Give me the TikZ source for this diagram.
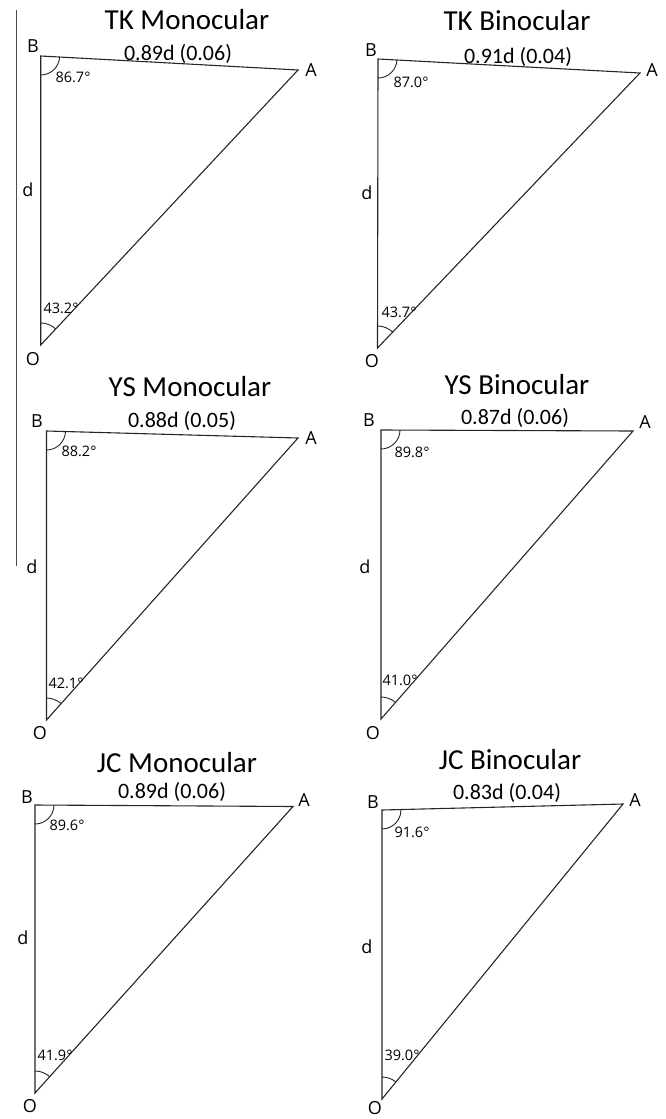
\documentclass[tikz,border=0pt]{standalone}
\usepackage{fontspec}
\setmainfont{Carlito}
\newfontfamily\labfont{Open Sans}
\usetikzlibrary{angles,calc}
\tikzset{
  tri/.style={draw=black!85, line width=1.1pt, line join=miter},
  angarc/.style={draw=black!85, line width=0.9pt},
  ttl/.style={font=\fontsize{29}{31}\selectfont, inner sep=0pt},
  lenlab/.style={font=\fontsize{22}{24}\selectfont, inner sep=0pt},
  vlab/.style={font=\labfont\fontsize{18}{20}\selectfont, inner sep=0pt},
  anglab/.style={font=\labfont\fontsize{14.5}{18}\selectfont, inner sep=0pt},
  sep/.style={draw=black!70, line width=1.5pt},
}
\begin{document}
\begin{tikzpicture}[x=1pt,y=-1pt]
\useasboundingbox (0,0) rectangle (665,1119);
% separator line
\coordinate (s1) at (16.7,10);
\coordinate (s2) at (16.7,566);
\draw[sep] (s1) -- (s2);

% ---- Panel 1: TK Monocular
\coordinate (B1) at (40.7,56); \coordinate (A1) at (298,70); \coordinate (O1) at (40.7,345);
\draw[tri] (B1) -- (A1) -- (O1) -- cycle;
\pic[angarc, angle radius=19pt] {angle=O1--B1--A1};
\pic[angarc, angle radius=22pt] {angle=A1--O1--B1};
\node[ttl] (t1) at (187,20) {TK Monocular};
\node[lenlab] (l1) at (178,54) {0.89d (0.06)};
\node[vlab] (nB1) at (33,46) {B};
\node[vlab] (nA1) at (311,70) {A};
\node[vlab] (nO1) at (33,359) {O};
\node[vlab] (d1) at (28,190) {d};
\node[anglab] (aB1) at (73,77) {86.7°};
\node[anglab] (aO1) at (61,308) {43.2°};

% ---- Panel 2: TK Binocular
\coordinate (B2) at (378,59); \coordinate (A2) at (640,73); \coordinate (O2) at (377.5,348);
\draw[tri] (B2) -- (A2) -- (O2) -- cycle;
\pic[angarc, angle radius=19pt] {angle=O2--B2--A2};
\pic[angarc, angle radius=22pt] {angle=A2--O2--B2};
\node[ttl] (t2) at (517,21) {TK Binocular};
\node[lenlab] (l2) at (518,57) {0.91d (0.04)};
\node[vlab] (nB2) at (371,50) {B};
\node[vlab] (nA2) at (652,70) {A};
\node[vlab] (nO2) at (372,361) {O};
\node[vlab] (d2) at (367,193) {d};
\node[anglab] (aB2) at (411,82) {87.0°};
\node[anglab] (aO2) at (399,312) {43.7°};

% ---- Panel 3: YS Monocular
\coordinate (B3) at (46.5,431); \coordinate (A3) at (298,438); \coordinate (O3) at (46.5,720);
\draw[tri] (B3) -- (A3) -- (O3) -- cycle;
\pic[angarc, angle radius=19pt] {angle=O3--B3--A3};
\pic[angarc, angle radius=22pt] {angle=A3--O3--B3};
\node[ttl] (t3) at (190,387) {YS Monocular};
\node[lenlab] (l3) at (182,421) {0.88d (0.05)};
\node[vlab] (nB3) at (37,421) {B};
\node[vlab] (nA3) at (311,438) {A};
\node[vlab] (nO3) at (40,733) {O};
\node[vlab] (d3) at (32,567) {d};
\node[anglab] (aB3) at (79,451) {88.2°};
\node[anglab] (aO3) at (66,683) {42.1°};

% ---- Panel 4: YS Binocular
\coordinate (B4) at (381,430); \coordinate (A4) at (633,431); \coordinate (O4) at (381,719);
\draw[tri] (B4) -- (A4) -- (O4) -- cycle;
\pic[angarc, angle radius=19pt] {angle=O4--B4--A4};
\pic[angarc, angle radius=22pt] {angle=A4--O4--B4};
\node[ttl] (t4) at (517,385) {YS Binocular};
\node[lenlab] (l4) at (515,418) {0.87d (0.06)};
\node[vlab] (nB4) at (369,420) {B};
\node[vlab] (nA4) at (645,422) {A};
\node[vlab] (nO4) at (373,733) {O};
\node[vlab] (d4) at (365,567) {d};
\node[anglab] (aB4) at (412,452) {89.8°};
\node[anglab] (aO4) at (400,680) {41.0°};

% ---- Panel 5: JC Monocular
\coordinate (B5) at (35,805); \coordinate (A5) at (293,806.5); \coordinate (O5) at (35,1093);
\draw[tri] (B5) -- (A5) -- (O5) -- cycle;
\pic[angarc, angle radius=19pt] {angle=O5--B5--A5};
\pic[angarc, angle radius=22pt] {angle=A5--O5--B5};
\node[ttl] (t5) at (177,763) {JC Monocular};
\node[lenlab] (l5) at (172,792) {0.89d (0.06)};
\node[vlab] (nB5) at (27,797) {B};
\node[vlab] (nA5) at (304,800) {A};
\node[vlab] (nO5) at (30,1106) {O};
\node[vlab] (d5) at (23,938) {d};
\node[anglab] (aB5) at (67,825) {89.6°};
\node[anglab] (aO5) at (55,1055) {41.9°};

% ---- Panel 6: JC Binocular
\coordinate (B6) at (382,810); \coordinate (A6) at (623,804); \coordinate (O6) at (382,1099);
\draw[tri] (B6) -- (A6) -- (O6) -- cycle;
\pic[angarc, angle radius=19pt] {angle=O6--B6--A6};
\pic[angarc, angle radius=22pt] {angle=A6--O6--B6};
\node[ttl] (t6) at (510,760) {JC Binocular};
\node[lenlab] (l6) at (507,793) {0.83d (0.04)};
\node[vlab] (nB6) at (373,802) {B};
\node[vlab] (nA6) at (635,800) {A};
\node[vlab] (nO6) at (375,1108) {O};
\node[vlab] (d6) at (367,947) {d};
\node[anglab] (aB6) at (412,832) {91.6°};
\node[anglab] (aO6) at (402,1055) {39.0°};
\end{tikzpicture}
\end{document}
